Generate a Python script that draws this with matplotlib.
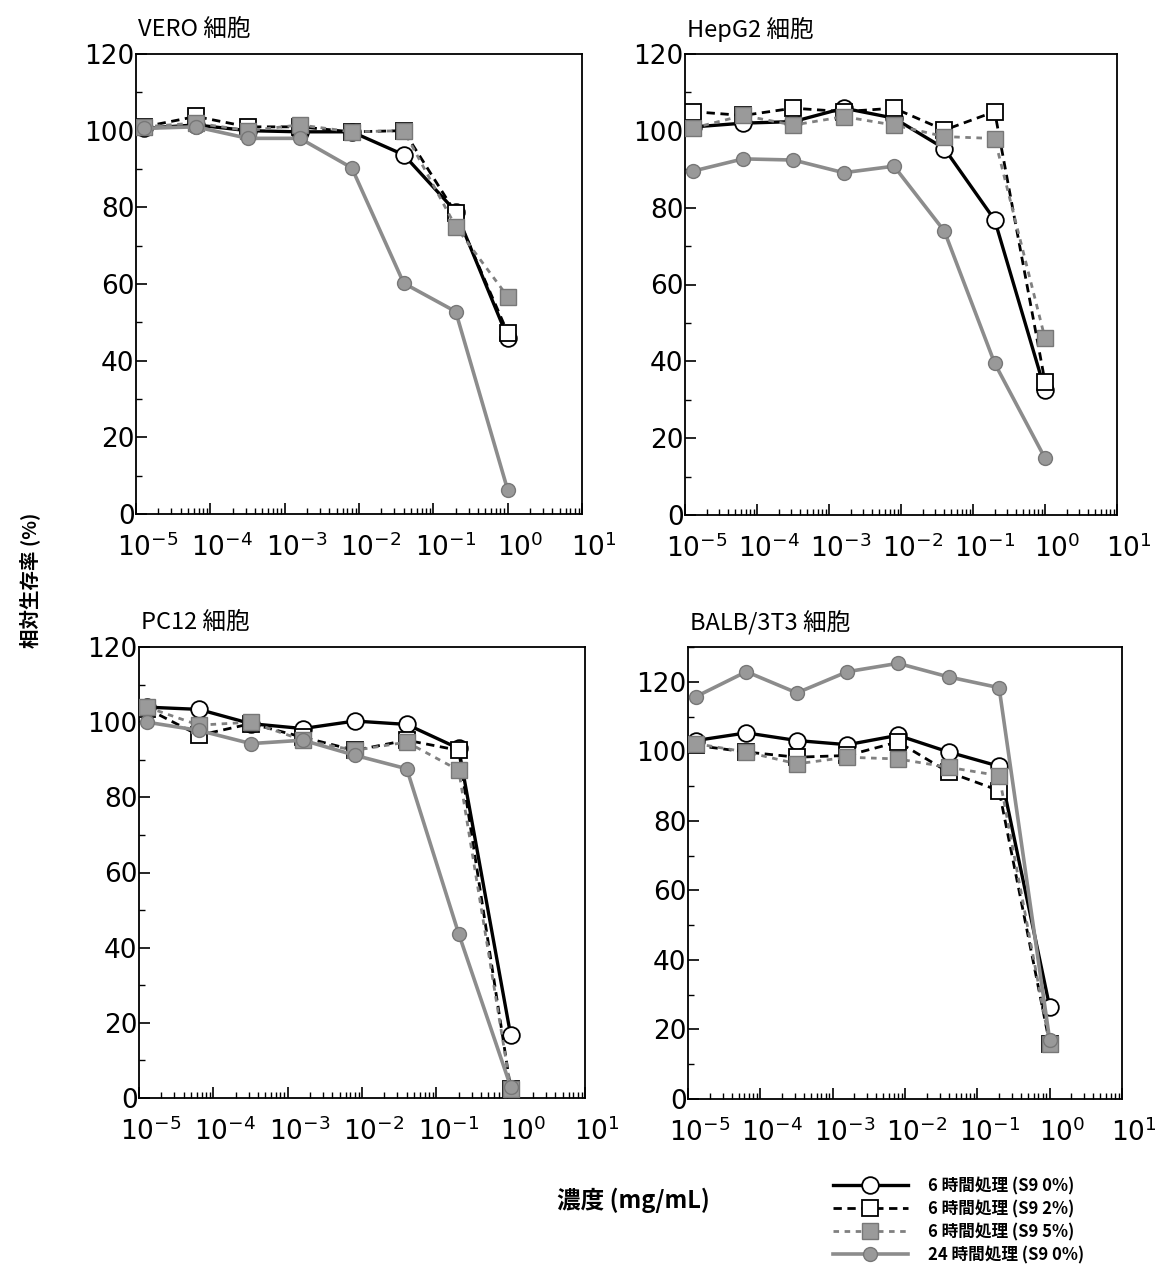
import matplotlib
matplotlib.use("Agg")
import matplotlib.pyplot as plt
import matplotlib.transforms as mtransforms
from matplotlib.ticker import LogLocator, MultipleLocator, FixedLocator, NullFormatter
from matplotlib.lines import Line2D

plt.rcParams['font.family'] = ['Noto Sans CJK JP', 'DejaVu Sans']

# ---------------- data ----------------
conc = [1.28e-5, 6.4e-5, 3.2e-4, 1.6e-3, 8e-3, 0.04, 0.2, 1.0]

series_labels = ["6 時間処理 (S9 0%)", "6 時間処理 (S9 2%)",
                 "6 時間処理 (S9 5%)", "24 時間処理 (S9 0%)"]

panel_titles = ["VERO 細胞", "HepG2 細胞", "PC12 細胞", "BALB/3T3 細胞"]

vero_s9_0 = [100.6, 101.5, 100.0, 99.7, 99.7, 93.7, 78.9, 46.0]
vero_s9_2 = [101.0, 103.7, 101.0, 101.0, 99.7, 100.0, 78.5, 47.3]
vero_s9_5 = [101.0, 102.0, 100.0, 101.5, 99.7, 100.0, 75.0, 56.7]
vero_24h = [100.6, 101.0, 98.0, 98.0, 90.3, 60.2, 52.8, 6.3]

hepg2_s9_0 = [101.0, 102.0, 102.4, 105.9, 103.3, 95.4, 76.8, 32.5]
hepg2_s9_2 = [105.0, 104.0, 105.9, 105.0, 105.9, 100.2, 105.0, 34.7]
hepg2_s9_5 = [100.7, 104.0, 101.5, 103.7, 101.5, 98.5, 98.0, 46.0]
hepg2_24h = [89.5, 92.7, 92.4, 89.1, 90.8, 73.9, 39.5, 14.8]

pc12_s9_0 = [104.0, 103.4, 99.6, 98.3, 100.3, 99.4, 93.0, 16.7]
pc12_s9_2 = [103.6, 96.5, 99.6, 96.0, 92.5, 95.2, 92.5, 2.5]
pc12_s9_5 = [104.0, 99.2, 100.0, 95.2, 92.5, 94.7, 87.2, 2.5]
pc12_24h = [100.0, 97.8, 94.3, 95.2, 91.2, 87.6, 43.7, 3.0]

balb_s9_0 = [103.1, 105.3, 103.1, 101.9, 104.6, 99.8, 95.7, 26.5]
balb_s9_2 = [101.7, 99.8, 98.3, 98.8, 102.7, 94.0, 88.7, 15.9]
balb_s9_5 = [102.2, 99.8, 96.4, 98.3, 97.8, 95.4, 93.0, 15.9]
balb_24h = [115.7, 122.9, 116.8, 122.9, 125.3, 121.4, 118.3, 17.0]

panels = [
    (vero_s9_0, vero_s9_2, vero_s9_5, vero_24h),
    (hepg2_s9_0, hepg2_s9_2, hepg2_s9_5, hepg2_24h),
    (pc12_s9_0, pc12_s9_2, pc12_s9_5, pc12_24h),
    (balb_s9_0, balb_s9_2, balb_s9_5, balb_24h),
]
ymax = [120, 120, 120, 130]

x_ticks = [1e-5, 1e-4, 1e-3, 1e-2, 1e-1, 1e0, 1e1]
x_ticklabels = [r"$10^{-5}$", r"$10^{-4}$", r"$10^{-3}$", r"$10^{-2}$",
                r"$10^{-1}$", r"$10^{0}$", r"$10^{1}$"]
y_ticks = [0, 20, 40, 60, 80, 100, 120]

# ---------------- layout ----------------
W, H = 1172, 1271
fig = plt.figure(figsize=(W / 100, H / 100), dpi=100)

boxes = [(136, 582, 54, 514), (685, 1117, 54, 515),
         (139, 585, 647, 1098), (688, 1122, 647, 1099)]

styles = [
    dict(color='black', lw=2.4, ls='-', marker='o', ms=12, mfc='white', mec='black', mew=1.3, zorder=3),
    dict(color='black', lw=2.0, ls=(0, (3, 2)), marker='s', ms=11, mfc='white', mec='black', mew=1.3, zorder=4),
    dict(color='#808080', lw=2.0, ls=(0, (2, 2)), marker='s', ms=11, mfc='#9a9a9a', mec='#777777', mew=1.0, zorder=5),
    dict(color='#8c8c8c', lw=2.6, ls='-', marker='o', ms=10, mfc='#999999', mec='#777777', mew=1.0, zorder=6),
]

xoff = mtransforms.ScaledTranslation(12 / 100, 0, fig.dpi_scale_trans)

for i, (l, r, t, b) in enumerate(boxes):
    ax = fig.add_axes([l / W, 1 - b / H, (r - l) / W, (b - t) / H])
    for s, st in zip(panels[i], styles):
        ax.plot(conc, s, **st)
    ax.set_xscale('log')
    ax.set_xlim(1e-5, 10)
    ax.set_ylim(0, ymax[i])
    ax.xaxis.set_major_locator(FixedLocator(x_ticks))
    ax.set_xticklabels(x_ticklabels)
    ax.xaxis.set_minor_locator(LogLocator(base=10, subs=range(2, 10), numticks=20))
    ax.xaxis.set_minor_formatter(NullFormatter())
    ax.set_yticks(y_ticks)
    ax.yaxis.set_minor_locator(MultipleLocator(10))
    ax.tick_params(which='both', direction='in', top=False, right=False)
    ax.tick_params(which='major', length=8, width=1.2, labelsize=19)
    ax.tick_params(which='minor', length=4, width=1.0)
    ax.tick_params(axis='y', pad=1)
    ax.tick_params(axis='x', pad=14)
    for lab in ax.get_xticklabels():
        lab.set_fontfamily('DejaVu Sans')
        lab.set_transform(lab.get_transform() + xoff)
    for lab in ax.get_yticklabels():
        lab.set_fontfamily('DejaVu Sans')
    for sp in ax.spines.values():
        sp.set_linewidth(1.3)
    fig.text(l / W + 0.002, 1 - (t - 24) / H, panel_titles[i], fontsize=17,
             ha='left', va='center')

fig.text(30 / W, 1 - 580 / H, "相対生存率 (%)", rotation=90, fontsize=14,
         fontweight='bold', ha='center', va='center')
fig.text(633 / W, 1 - 1200 / H, "濃度 (mg/mL)", fontsize=17,
         fontweight='bold', ha='center', va='center')

handles = []
for lab, st in zip(series_labels, styles):
    st2 = dict(st)
    st2.pop('zorder')
    handles.append(Line2D([], [], **st2))
leg = fig.legend(handles, series_labels, loc='upper left',
                 bbox_to_anchor=(818 / W, 1 - 1162 / H), frameon=False,
                 handlelength=4.5, labelspacing=0.3,
                 handletextpad=1.2, prop={'weight': 'bold', 'size': 12})

fig.savefig("out.png", dpi=100)
